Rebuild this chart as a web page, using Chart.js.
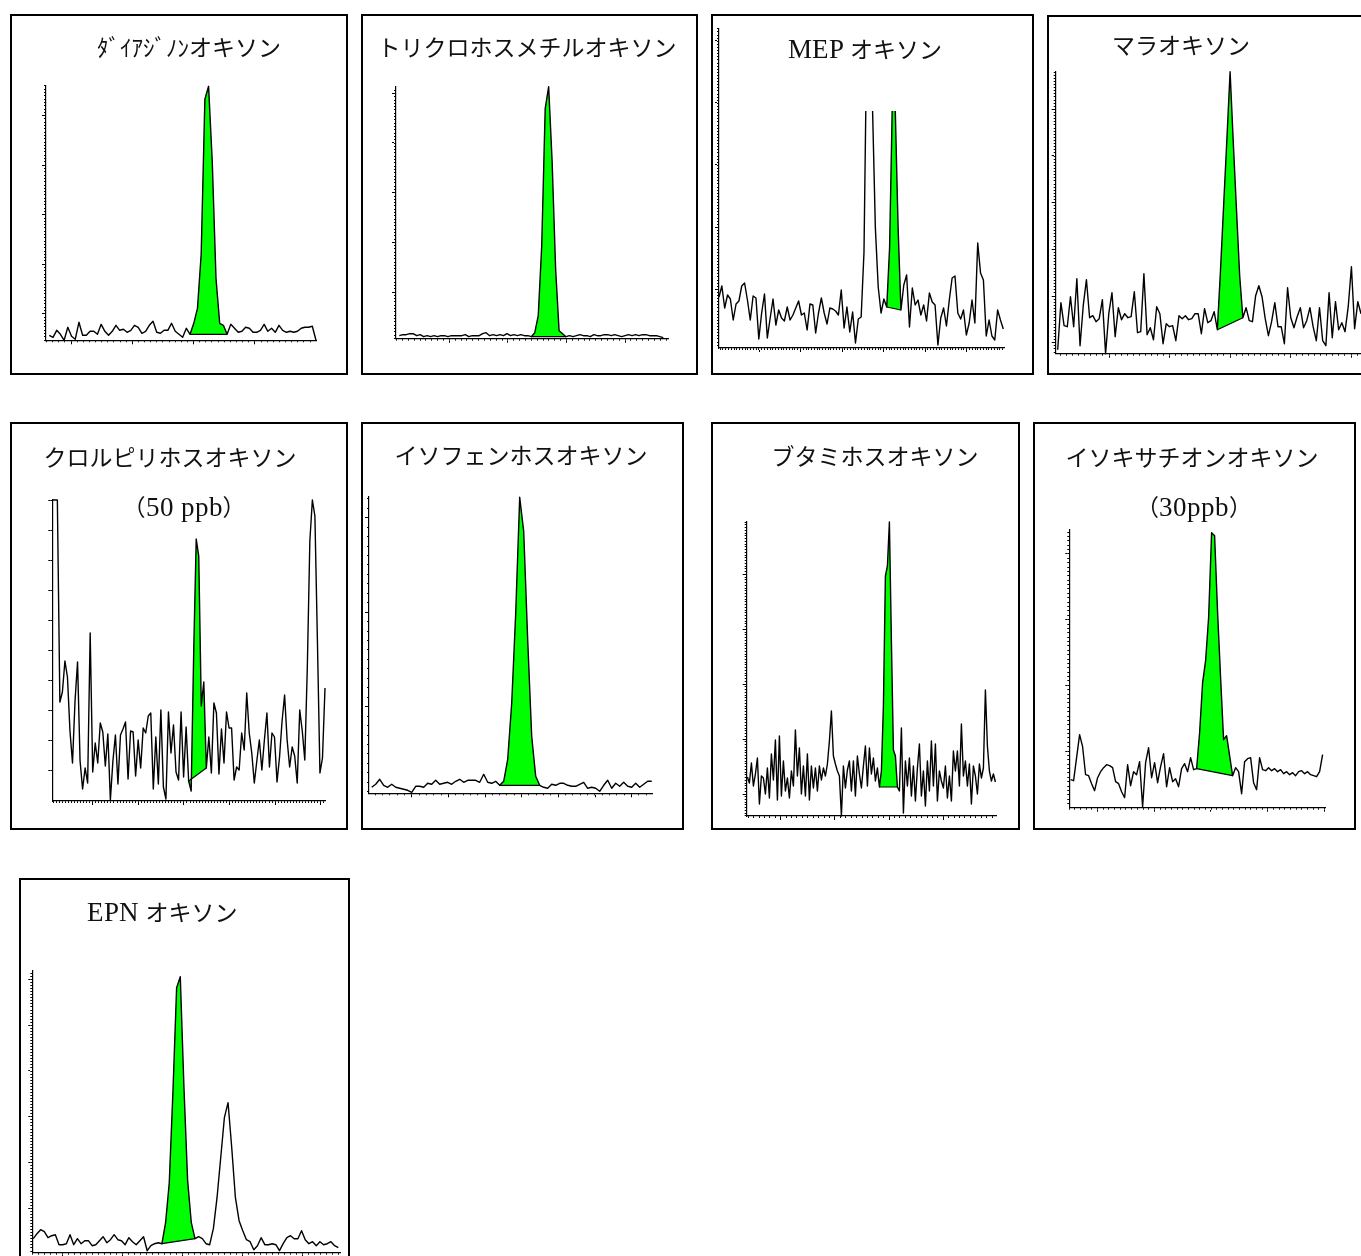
<!DOCTYPE html>
<html lang="ja">
<head>
<meta charset="utf-8">
<script src="https://cdn.jsdelivr.net/npm/chart.js@4.4.0/dist/chart.umd.min.js"></script>
<style>
@font-face { font-family: 'TitleLatin'; src: local('Liberation Serif'); unicode-range: U+0020-007E; size-adjust: 118%; }
html, body { margin: 0; padding: 0; background: #fff; }
body { width: 1361px; height: 1256px; overflow: hidden; position: relative; }
.box { position: absolute; box-sizing: border-box; border: 2px solid #000; }
.plot { position: absolute; }
.title { position: absolute; transform: translate(-50%, -50%); white-space: nowrap;
         font-family: 'TitleLatin', 'Noto Sans CJK JP', sans-serif; font-size: 23px; line-height: 1; color: #111; }
</style>
</head>
<body>
<script>
// ============================================================
// Oxon chromatograms (SIM traces, integrated peak in green)
// ============================================================

// ── Signal heights, one value per scan ────────────────────────
const diazTrace = [5,3,10,6,0,13,4,1,18,5,5,9,9,6,16,9,5,9,15,10,11,8,10,15,13,7,9,15,19,8,7,10,10,17,9,6,3,12,
    6,17,32,86,241,254,178,62,17,15,6,
    16,12,8,9,13,12,8,8,10,16,9,12,8,15,10,8,9,8,9,12,13,13,14,0];
const diazPeak = [38, 48];
const diazBase = [6, 6];

const trichTrace = [3,4,4,5,5,3,4,2,3,2,3,2,3,3,2,3,3,3,3,4,2,3,3,3,5,6,3,4,3,4,3,5,3,4,3,4,3,3,
    2,6,23,93,230,252,177,70,8,5,2,
    3,2,3,4,3,3,2,4,3,3,4,4,3,4,3,2,3,4,3,4,3,4,4,3,3,3,2,1];
const trichPeak = [38, 48];
const trichBase = [2, 2];

const mepTrace = [51,62,40,53,49,28,44,47,62,65,48,28,52,50,9,35,54,10,30,49,23,38,30,27,41,28,33,40,47,33,
    35,18,44,43,15,35,50,35,24,40,39,37,33,58,20,41,16,36,5,29,31,96,320,330,240,120,61,35,49,
    41,100,250,238,120,38,
    63,73,21,60,43,48,33,43,27,55,46,43,3,30,40,22,48,70,72,35,29,38,13,25,48,25,105,75,68,12,28,12,8,38,28,19];
const mepPeak = [59, 64];
const mepBase = [41, 38];

const malaTrace = [4,51,28,27,57,27,75,8,48,74,36,38,32,35,54,0,40,61,17,46,34,40,36,37,62,21,22,80,19,26,
    14,47,40,10,30,27,28,13,38,35,38,34,35,40,40,20,45,31,33,42,
    24,84,150,215,282,211,144,78,36,
    46,33,32,58,68,57,35,18,32,51,27,27,10,66,36,26,37,46,26,33,46,27,13,46,13,8,61,16,52,24,31,22,47,87,25,52,40];
const malaPeak = [50, 58];
const malaBase = [24, 36];

const chlorTrace = [301,301,301,99,109,140,124,70,38,100,139,40,12,33,18,168,29,58,38,78,69,35,67,1,40,66,17,66,72,79,
    22,70,69,25,61,33,73,68,85,88,12,64,17,91,14,2,89,48,76,29,21,89,24,74,
    20,10,149,262,245,95,119,33,
    64,28,98,88,27,72,38,89,73,73,21,34,31,68,51,108,68,48,18,40,61,31,61,88,34,68,64,19,44,80,106,61,34,54,45,18,
    91,70,41,134,260,301,285,160,28,43,113];
const chlorPeak = [54, 61];
const chlorBase = [20, 33];

const isofTrace = [6,9,14,8,6,9,6,5,4,3,1,7,7,6,10,9,13,9,10,11,9,12,14,11,13,13,13,11,19,11,10,12,
    8,12,34,90,180,296,262,153,57,17,8,
    6,5,9,8,10,10,8,7,7,9,11,5,6,5,2,8,13,5,10,7,11,7,6,10,6,9,12,12];
const isofPeak = [32, 42];
const isofBase = [8, 8];

const butaTrace = [39,33,53,30,42,58,12,40,38,22,48,18,62,36,76,16,80,20,55,25,38,18,45,30,86,40,68,22,50,20,
    62,16,50,28,48,25,50,36,48,40,52,75,105,60,52,45,40,0,50,28,46,55,25,55,20,60,42,28,50,70,30,68,42,58,35,48,
    29,45,110,240,250,294,175,66,60,29,
    25,88,3,55,30,58,20,50,15,48,72,20,45,10,55,25,75,30,72,15,45,35,28,50,18,40,15,65,45,65,30,92,40,55,30,52,
    12,50,40,22,52,38,48,126,70,45,35,42,34];
const butaPeak = [66, 75];
const butaBase = [29, 29];

const isoxTrace = [28,27,50,73,61,33,32,24,17,30,36,40,43,42,40,26,24,16,10,43,22,36,33,46,1,45,60,30,45,25,
    41,54,21,40,26,29,21,39,44,36,50,38,
    39,75,125,147,190,275,272,195,130,68,72,52,32,
    40,36,14,46,49,50,25,18,50,38,37,40,37,39,36,38,34,36,33,35,32,36,37,34,36,33,32,31,36,53];
const isoxPeak = [42, 54];
const isoxBase = [39, 32];

const epnTrace = [14,19,23,21,15,17,18,8,8,9,18,8,14,9,12,12,7,8,12,16,10,13,18,13,12,8,15,11,8,12,16,2,7,9,10,
    9,30,70,161,265,276,165,72,30,14,
    16,14,9,8,24,55,95,135,150,105,55,32,22,13,11,3,7,15,8,8,9,8,2,9,15,17,14,14,22,13,9,11,7,11,8,9,11,7,5];
const epnPeak = [35, 44];
const epnBase = [9, 14];

const titles = [
    ['ﾀﾞｲｱｼﾞﾉﾝオキソン'],
    ['トリクロホスメチルオキソン'],
    ['MEP オキソン'],
    ['マラオキソン'],
    ['クロルピリホスオキソン', '（50 ppb）'],
    ['イソフェンホスオキソン'],
    ['ブタミホスオキソン'],
    ['イソキサチオンオキソン', '（30ppb）'],
    ['EPN オキソン']
];

// ── Panel geometry (page px) ──────────────────────────────────
// box: frame, plot: [axisX, top, right, axisY], scan: first/last scan offset
const layouts = [
    { box: [10, 14, 348, 375],   plot: [46, 85.3, 316, 340.3],    scan: [3.3, 270],
      xMinor: [0.48, 6.13], xMajor: [25, 61.3],   yMinor: [0.2, 3.3],   yMajor: [26.6, 49.5], heads: [[189, 47]] },
    { box: [361, 14, 698, 375],  plot: [396, 87, 668, 338.7],     scan: [3.3, 267.3],
      xMinor: [0.56, 5.86], xMajor: [53.3, 58.6], yMinor: [0.36, 3.31], yMajor: [46.7, 49.7], heads: [[527, 47]] },
    { box: [711, 14, 1034, 375], plot: [719, 28.7, 1004, 348],    scan: [0, 284.3], clipTop: -82.3,
      xMinor: [1.2, 2.77],  xMajor: [40, 41.5],   yMinor: [2.9, 3.1],   yMajor: [58.7, 62.3], heads: [[865, 48.5]] },
    { box: [1047, 15, 1375, 375], plot: [1055.7, 72, 1366, 353.7], scan: [2, 305.3],
      xMinor: [4.9, 6.05],  xMajor: [53.3, 60.5], yMinor: [1.7, 3.11],  yMajor: [11, 46.7],   heads: [[1181, 45]] },
    { box: [10, 422, 348, 830],  plot: [52.3, 500, 325, 801],     scan: [0, 272.7],
      xMinor: [0.9, 3.04],  xMajor: [40.4, 45.6], yMinor: [30.1, 30.1], yMajor: [30.1, 30.1], heads: [[170, 457], [184, 507]] },
    { box: [361, 422, 684, 830], plot: [369, 496.7, 652.3, 793.3], scan: [2.7, 282.7],
      xMinor: [6.05, 7.33], xMajor: [42.7, 36.7], yMinor: [1.55, 9.45], yMajor: [86.6, 94.5], heads: [[521, 455]] },
    { box: [711, 422, 1020, 830], plot: [746.7, 521.7, 996.7, 816], scan: [0.7, 248.7],
      xMinor: [1.5, 5.42],  xMajor: [34, 54.2],   yMinor: [0.04, 2.745], yMajor: [22, 54.9],  heads: [[875, 456]] },
    { box: [1033, 422, 1356, 830], plot: [1069.3, 530, 1325, 807.7], scan: [1.3, 253.3],
      xMinor: [0, 5.67],    xMajor: [28.3, 56.7], yMinor: [4.1, 4.38],  yMajor: [56.7, 65.7], heads: [[1192, 457], [1194, 507]] },
    { box: [19, 878, 350, 1290], plot: [32.3, 970.7, 340, 1252.7], scan: [1, 306],
      xMinor: [0, 6],       xMajor: [30, 60],     yMinor: [1.7, 3.05],  yMajor: [44.4, 45.8], heads: [[162, 912]] }
];

const series = [
    [diazTrace, diazPeak, diazBase],
    [trichTrace, trichPeak, trichBase],
    [mepTrace, mepPeak, mepBase],
    [malaTrace, malaPeak, malaBase],
    [chlorTrace, chlorPeak, chlorBase],
    [isofTrace, isofPeak, isofBase],
    [butaTrace, butaPeak, butaBase],
    [isoxTrace, isoxPeak, isoxBase],
    [epnTrace, epnPeak, epnBase]
];

const MINOR_LEN = 2;
const MAJOR_LEN = 2;

function tickRun(first, step, max) {
    const out = [];
    for (let v = first; v <= max + 0.001; v += step) out.push({ value: v });
    return out;
}

function tickAxis(position, max, run, weight, len, showBorder) {
    return {
        type: 'linear', position, weight, min: 0, max,
        border: { display: showBorder, color: '#000', width: 1.2 },
        grid: { drawOnChartArea: false, drawTicks: true, tickLength: len, color: '#000', tickColor: '#000', tickWidth: 1 },
        ticks: { display: false },
        afterBuildTicks: (axis) => { axis.ticks = tickRun(run[0], run[1], max); }
    };
}

function addDiv(cls, css, text) {
    const d = document.createElement('div');
    d.className = cls;
    d.style.cssText = css;
    if (text) d.textContent = text;
    document.body.appendChild(d);
    return d;
}

layouts.forEach((L, p) => {
    const [trace, peak, base] = series[p];
    const [bx0, by0, bx1, by1] = L.box;
    const [px0, py0, px1, py1] = L.plot;
    const w = bx1 - bx0, h = by1 - by0;
    const xMax = px1 - px0, yMax = py1 - py0;

    addDiv('box', `left:${bx0}px;top:${by0}px;width:${w}px;height:${h}px;`);

    const canvas = document.createElement('canvas');
    canvas.className = 'plot';
    canvas.width = w;
    canvas.height = h;
    canvas.style.cssText = `left:${bx0}px;top:${by0}px;width:${w}px;height:${h}px;`;
    document.body.appendChild(canvas);

    const dt = (L.scan[1] - L.scan[0]) / (trace.length - 1);
    const pts = trace.map((v, i) => ({ x: L.scan[0] + i * dt, y: v }));
    const peakPts = pts.slice(peak[0], peak[1] + 1);
    const basePts = [{ x: pts[peak[0]].x, y: base[0] }, { x: pts[peak[1]].x, y: base[1] }];
    const clip = { left: 2, right: 2, bottom: 2, top: L.clipTop !== undefined ? L.clipTop : 2 };

    new Chart(canvas, {
        type: 'line',
        data: {
            datasets: [
                { data: pts, borderColor: '#000', borderWidth: 1.4, borderJoinStyle: 'round',
                  pointRadius: 0, fill: false, tension: 0, order: 0, clip },
                { data: peakPts, borderColor: 'rgba(0,0,0,0)', borderWidth: 0, backgroundColor: '#00ff00',
                  pointRadius: 0, fill: '+1', tension: 0, order: 2, clip },
                { data: basePts, borderColor: '#000', borderWidth: 1.2, pointRadius: 0,
                  fill: false, tension: 0, order: 1, clip }
            ]
        },
        options: {
            responsive: false,
            animation: false,
            events: [],
            layout: {
                padding: {
                    left: px0 - bx0 - MINOR_LEN - MAJOR_LEN,
                    top: py0 - by0,
                    right: bx1 - px1,
                    bottom: by1 - py1 - MINOR_LEN - MAJOR_LEN
                }
            },
            plugins: { legend: { display: false }, tooltip: { enabled: false } },
            scales: {
                x: tickAxis('bottom', xMax, L.xMinor, 0, MINOR_LEN, true),
                xMajor: tickAxis('bottom', xMax, L.xMajor, 1, MAJOR_LEN, false),
                y: tickAxis('left', yMax, L.yMinor, 0, MINOR_LEN, true),
                yMajor: tickAxis('left', yMax, L.yMajor, 1, MAJOR_LEN, false)
            }
        }
    });

    titles[p].forEach((line, k) => {
        const [cx, cy] = L.heads[k];
        addDiv('title', `left:${cx}px;top:${cy}px;`, line);
    });
});
</script>
</body>
</html>
